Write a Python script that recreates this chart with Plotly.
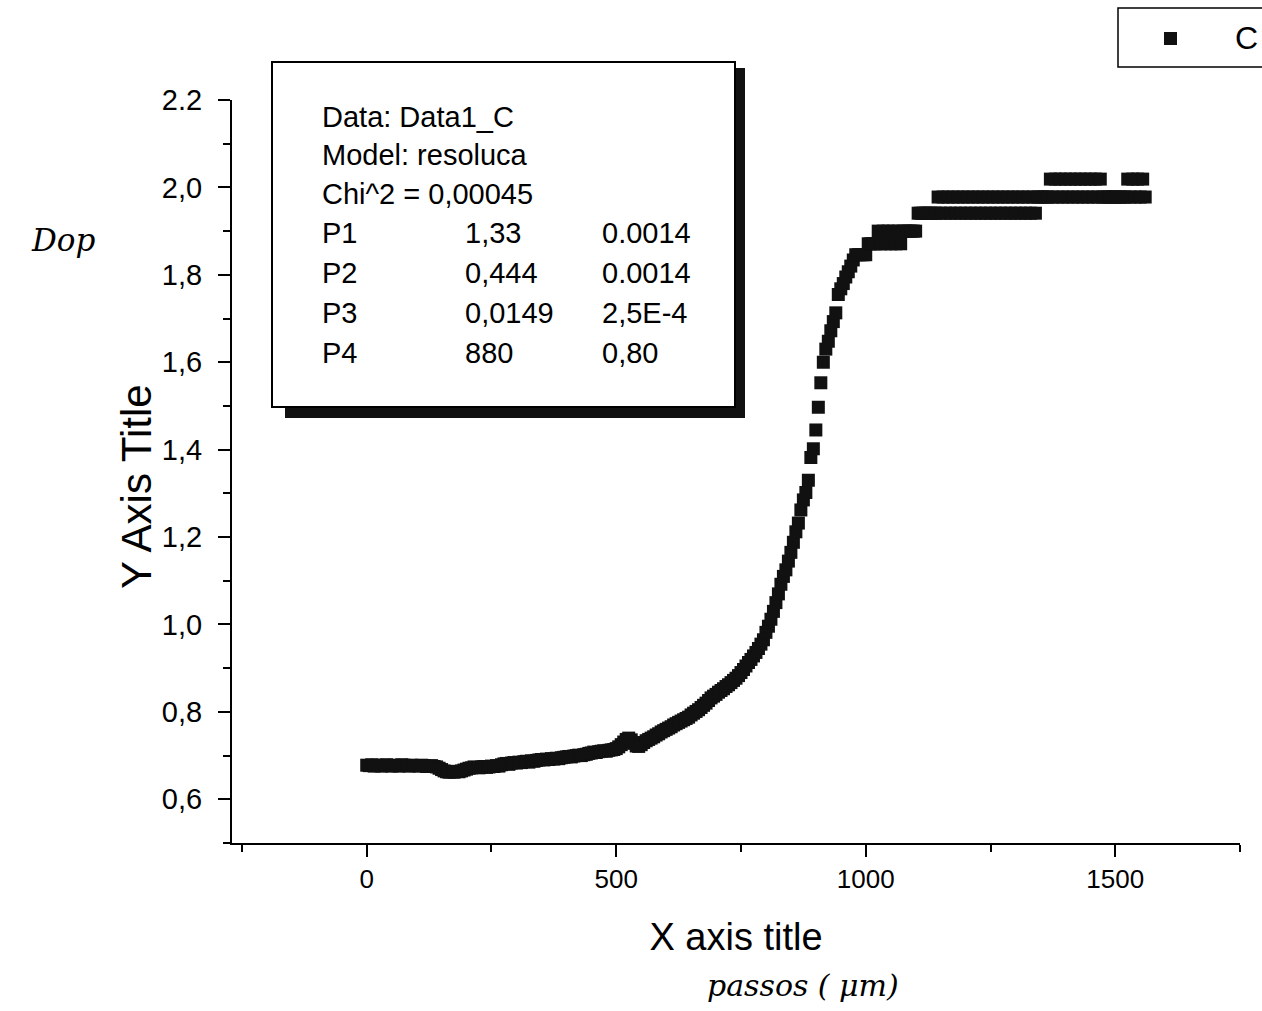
import plotly.graph_objects as go

# ---------------- data ----------------
x_steps = list(range(0, 1561, 5))  # scan positions (passos)
y_C = [
    # 0-45
    0.678, 0.677, 0.679, 0.676, 0.678, 0.677, 0.676, 0.678, 0.679, 0.677,
    # 50-95
    0.676, 0.678, 0.677, 0.676, 0.679, 0.678, 0.677, 0.676, 0.678, 0.677,
    # 100-145
    0.677, 0.676, 0.678, 0.677, 0.675, 0.676, 0.677, 0.675, 0.674, 0.671,
    # 150-195
    0.668, 0.665, 0.663, 0.662, 0.663, 0.662, 0.664, 0.663, 0.665, 0.667,
    # 200-245
    0.669, 0.671, 0.672, 0.674, 0.673, 0.672, 0.674, 0.675, 0.673, 0.674,
    # 250-295
    0.676, 0.675, 0.677, 0.676, 0.679, 0.681, 0.682, 0.680, 0.683, 0.684,
    # 300-345
    0.683, 0.685, 0.684, 0.686, 0.687, 0.685, 0.688, 0.687, 0.689, 0.690,
    # 350-395
    0.691, 0.690, 0.692, 0.691, 0.693, 0.692, 0.694, 0.693, 0.695, 0.696,
    # 400-445
    0.697, 0.698, 0.697, 0.699, 0.700, 0.701, 0.700, 0.702, 0.703, 0.705,
    # 450-495
    0.706, 0.708, 0.707, 0.709, 0.710, 0.711, 0.710, 0.712, 0.713, 0.714,
    # 500-545
    0.716, 0.720, 0.725, 0.731, 0.737, 0.740, 0.736, 0.728, 0.722, 0.721,
    # 550-595
    0.725, 0.730, 0.734, 0.737, 0.740, 0.743, 0.747, 0.750, 0.754, 0.757,
    # 600-645
    0.760, 0.763, 0.766, 0.770, 0.773, 0.776, 0.779, 0.782, 0.785, 0.788,
    # 650-695
    0.793, 0.797, 0.801, 0.805, 0.810, 0.815, 0.820, 0.826, 0.832, 0.836,
    # 700-745
    0.840, 0.845, 0.849, 0.853, 0.858, 0.862, 0.867, 0.872, 0.877, 0.883,
    # 750-795
    0.890, 0.897, 0.905, 0.913, 0.920, 0.928, 0.936, 0.945, 0.955, 0.965,
    # 800-845
    0.982, 0.996, 1.012, 1.030, 1.050, 1.070, 1.092, 1.110, 1.125, 1.145,
    # 850-895
    1.165, 1.188, 1.212, 1.232, 1.262, 1.285, 1.302, 1.330, 1.382, 1.402,
    # 900-945
    1.445, 1.497, 1.553, 1.600, 1.630, 1.648, 1.672, 1.693, 1.713, 1.755,
    # 950-995
    1.768, 1.780, 1.795, 1.807, 1.820, 1.834, 1.846, 1.846, 1.846, 1.846,
    # 1000-1045
    1.846, 1.871, 1.871, 1.871, 1.871, 1.900, 1.871, 1.900, 1.871, 1.900,
    # 1050-1095
    1.871, 1.900, 1.871, 1.900, 1.871, 1.900, 1.900, 1.900, 1.900, 1.900,
    # 1100-1145
    1.900, 1.941, 1.941, 1.941, 1.941, 1.941, 1.941, 1.941, 1.941, 1.978,
    # 1150-1195
    1.941, 1.978, 1.941, 1.978, 1.941, 1.978, 1.941, 1.978, 1.941, 1.978,
    # 1200-1245
    1.941, 1.978, 1.941, 1.978, 1.941, 1.978, 1.941, 1.978, 1.941, 1.978,
    # 1250-1295
    1.941, 1.978, 1.941, 1.978, 1.941, 1.978, 1.941, 1.978, 1.941, 1.978,
    # 1300-1345
    1.941, 1.978, 1.941, 1.978, 1.941, 1.978, 1.941, 1.978, 1.941, 1.978,
    # 1350-1395
    1.978, 1.978, 1.978, 1.978, 2.019, 1.978, 2.019, 1.978, 2.019, 1.978,
    # 1400-1445
    2.019, 1.978, 2.019, 1.978, 2.019, 1.978, 2.019, 1.978, 2.019, 1.978,
    # 1450-1495
    2.019, 1.978, 2.019, 1.978, 2.019, 1.978, 1.978, 1.978, 1.978, 1.978,
    # 1500-1545
    1.978, 1.978, 1.978, 1.978, 1.978, 2.019, 1.978, 2.019, 1.978, 2.019,
    # 1550-1560
    1.978, 2.019, 1.978,
]

series_name = "C"
y_tickvals = [0.6, 0.8, 1.0, 1.2, 1.4, 1.6, 1.8, 2.0, 2.2]
y_ticktext = ["0,6", "0,8", "1,0", "1,2", "1,4", "1,6", "1,8", "2,0", "2.2"]
y_minorvals = [0.5, 0.7, 0.9, 1.1, 1.3, 1.5, 1.7, 1.9, 2.1]
x_tickvals = [0, 500, 1000, 1500]
x_ticktext = ["0", "500", "1000", "1500"]
x_minorvals = [-250, 250, 750, 1250, 1750]

fit_header = ["Data: Data1_C", "Model: resoluca", "Chi^2 = 0,00045"]
fit_params = ["P1", "P2", "P3", "P4"]
fit_values = ["1,33", "0,444", "0,0149", "880"]
fit_errors = ["0.0014", "0.0014", "2,5E-4", "0,80"]

# ---------------- layout geometry ----------------
W, H = 1262, 1011
L, T, R, B = 232, 100, 22, 168
PW, PH = W - L - R, H - T - B
FONT = "Liberation Sans, Arial, sans-serif"


def px(xp):
    """page pixel x -> paper coordinate"""
    return (xp - L) / PW


def py(yp):
    """page pixel y -> paper coordinate"""
    return (H - B - yp) / PH


fig = go.Figure()
fig.add_trace(go.Scatter(
    x=x_steps[:len(y_C)], y=y_C, mode="markers", name=series_name,
    marker=dict(symbol="square", size=13, color="#111111",
                line=dict(width=0)),
    showlegend=False,
))

shapes = []
# fit text box shadow and box
shapes.append(dict(type="rect", xref="paper", yref="paper",
                   x0=px(735), x1=px(745), y0=py(418), y1=py(68),
                   fillcolor="#111111", line=dict(width=0), layer="above"))
shapes.append(dict(type="rect", xref="paper", yref="paper",
                   x0=px(285), x1=px(745), y0=py(418), y1=py(407),
                   fillcolor="#111111", line=dict(width=0), layer="above"))
shapes.append(dict(type="rect", xref="paper", yref="paper",
                   x0=px(272), x1=px(735), y0=py(407), y1=py(62),
                   fillcolor="white", line=dict(color="black", width=2),
                   layer="above"))
# legend box (extends past the right edge) and its symbol
shapes.append(dict(type="rect", xref="paper", yref="paper",
                   x0=px(1118), x1=px(1275), y0=py(67), y1=py(8),
                   fillcolor="white", line=dict(color="black", width=1.5),
                   layer="above"))
shapes.append(dict(type="rect", xref="paper", yref="paper",
                   x0=px(1164), x1=px(1177), y0=py(45), y1=py(32),
                   fillcolor="#111111", line=dict(width=0), layer="above"))

annotations = []
row_y = [117, 155, 194, 233, 273, 313, 353]
for i, t in enumerate(fit_header):
    annotations.append(dict(x=px(320), y=py(row_y[i]), xref="paper", yref="paper",
                            text=t, showarrow=False, xanchor="left", yanchor="middle",
                            font=dict(family=FONT, size=29, color="black")))
for j in range(4):
    yy = py(row_y[3 + j])
    for xx, t in ((320, fit_params[j]), (463, fit_values[j]), (600, fit_errors[j])):
        annotations.append(dict(x=px(xx), y=yy, xref="paper", yref="paper",
                                text=t, showarrow=False, xanchor="left", yanchor="middle",
                                font=dict(family=FONT, size=29, color="black")))

# legend label
annotations.append(dict(x=px(1233), y=py(38), xref="paper", yref="paper",
                        text=series_name, showarrow=False,
                        xanchor="left", yanchor="middle",
                        font=dict(family=FONT, size=32, color="black")))

# y axis title (placed as in the original, slightly below the axis centre)
annotations.append(dict(x=px(137), y=py(487), xref="paper", yref="paper",
                        text="Y Axis Title", showarrow=False, textangle=-90,
                        xanchor="center", yanchor="middle",
                        font=dict(family=FONT, size=42, color="black")))

# handwritten notes
annotations.append(dict(x=px(63), y=py(240), xref="paper", yref="paper",
                        text="<i>Dop</i>", showarrow=False,
                        xanchor="center", yanchor="middle",
                        font=dict(family="DejaVu Serif", size=31, color="black")))
annotations.append(dict(x=px(803), y=py(985), xref="paper", yref="paper",
                        text="<i>passos ( μm)</i>", showarrow=False,
                        xanchor="center", yanchor="middle",
                        font=dict(family="DejaVu Serif", size=30, color="black")))

fig.update_layout(
    width=W, height=H,
    margin=dict(l=L, r=R, t=T, b=B, pad=0),
    paper_bgcolor="white", plot_bgcolor="white",
    font=dict(family=FONT, color="black"),
    showlegend=False,
    shapes=shapes, annotations=annotations,
    xaxis=dict(range=[-270, 1750], showline=True, linecolor="black", linewidth=2,
               showgrid=False, zeroline=False, mirror=False,
               tickmode="array", tickvals=x_tickvals, ticktext=x_ticktext,
               ticks="outside", ticklen=12, tickwidth=2, tickcolor="black",
               minor=dict(tickmode="array", tickvals=x_minorvals, ticks="outside",
                          ticklen=7, tickwidth=2, tickcolor="black"),
               tickfont=dict(family=FONT, size=26), ticklabelstandoff=0,
               title=dict(text="X axis title", font=dict(family=FONT, size=38),
                          standoff=30),
               automargin=False),
    yaxis=dict(range=[0.5, 2.2], showline=True, linecolor="black", linewidth=2,
               showgrid=False, zeroline=False, mirror=False,
               tickmode="array", tickvals=y_tickvals, ticktext=y_ticktext,
               ticks="outside", ticklen=12, tickwidth=2, tickcolor="black",
               minor=dict(tickmode="array", tickvals=y_minorvals, ticks="outside",
                          ticklen=7, tickwidth=2, tickcolor="black"),
               tickfont=dict(family=FONT, size=29), ticklabelstandoff=10,
               automargin=False),
)

fig.write_html(
    "out.html",
    config={"displayModeBar": False},
    post_script="document.body.style.margin='0';document.body.style.overflow='hidden';",
)
